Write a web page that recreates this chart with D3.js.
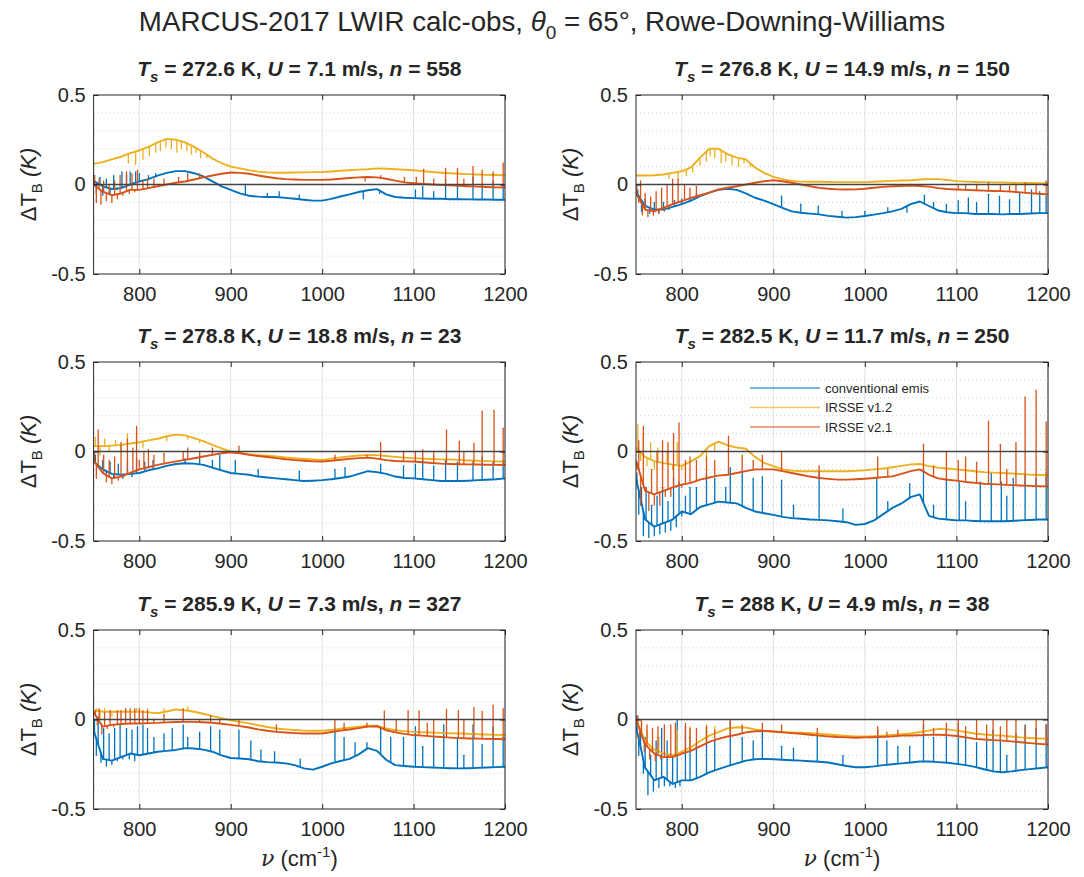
<!DOCTYPE html>
<html>
<head>
<meta charset="utf-8">
<script src="https://cdn.jsdelivr.net/npm/d3@7"></script>
<style>
  body { margin: 0; background: #fff; }
  text { font-family: "Liberation Sans", Arial, Helvetica, sans-serif; fill: #262626; }
</style>
</head>
<body>
<svg id="fig" width="1084" height="877"></svg>
<script>
// ---------------- data ----------------
// Wavenumber grid (cm^-1) for the smooth part of each residual spectrum
const wavenumber = [750, 760, 770, 780, 790, 800, 810, 820, 830, 840,
  850, 860, 870, 880, 890, 900, 910, 920, 930, 940,
  950, 960, 970, 980, 990, 1000, 1010, 1020, 1030, 1040,
  1050, 1060, 1070, 1080, 1090, 1100, 1110, 1120, 1130, 1140,
  1150, 1160, 1170, 1180, 1190, 1200];

const surfaceTemp = ["272.6", "276.8", "278.8", "282.5", "285.9", "288"];
const windSpeed = ["7.1", "14.9", "18.8", "11.7", "7.3", "4.9"];
const sampleCount = ["558", "150", "23", "250", "327", "38"];

const seriesNames = ["conventional emis", "IRSSE v1.2", "IRSSE v2.1"];
const xTicks = [800, 900, 1000, 1100, 1200];
const yTicks = [-0.5, 0, 0.5];
const yMinor = [-0.4, -0.3, -0.2, -0.1, 0.1, 0.2, 0.3, 0.4];

// Panel 1: Ts = 272.6 K
const p1Conv = [0.02, -0.01, -0.025, -0.02, 0.0, 0.017, 0.03, 0.05, 0.065, 0.075,
  0.075, 0.063, 0.045, 0.017, -0.01, -0.03, -0.05, -0.063, -0.068, -0.07,
  -0.07, -0.075, -0.08, -0.085, -0.09, -0.09, -0.08, -0.067, -0.055, -0.042,
  -0.032, -0.026, -0.055, -0.07, -0.074, -0.076, -0.078, -0.08, -0.08, -0.082,
  -0.082, -0.083, -0.084, -0.084, -0.085, -0.085];
const p1V12 = [0.115, 0.125, 0.14, 0.155, 0.175, 0.19, 0.21, 0.235, 0.255, 0.25,
  0.235, 0.21, 0.18, 0.145, 0.12, 0.10, 0.09, 0.08, 0.072, 0.068,
  0.066, 0.066, 0.067, 0.068, 0.069, 0.07, 0.073, 0.077, 0.08, 0.083,
  0.085, 0.09, 0.088, 0.085, 0.082, 0.08, 0.075, 0.07, 0.066, 0.063,
  0.06, 0.058, 0.056, 0.054, 0.053, 0.052];
const p1V21 = [0.0, -0.04, -0.06, -0.05, -0.03, -0.03, -0.02, -0.01, 0.0, 0.01,
  0.017, 0.028, 0.04, 0.05, 0.06, 0.067, 0.065, 0.06, 0.05, 0.042,
  0.035, 0.03, 0.028, 0.026, 0.026, 0.026, 0.028, 0.032, 0.036, 0.04,
  0.042, 0.04, 0.032, 0.022, 0.012, 0.007, 0.003, 0.0, -0.003, -0.005,
  -0.007, -0.01, -0.012, -0.014, -0.016, -0.017];
// spectral-line features: [wavenumber, peak value]
const p1ConvLines = [[751, 0.05], [753, -0.05], [757, 0.04], [760, -0.06], [764, 0.03], [768, -0.05],
  [772, 0.05], [776, -0.03], [781, 0.07], [786, 0.05], [790, 0.07], [796, 0.07], [800, 0.06],
  [810, 0.05], [818, 0.06], [916, 0.0], [940, -0.05], [953, -0.04], [975, -0.06], [1045, -0.08],
  [1063, -0.05], [1102, -0.03], [1110, -0.01], [1122, -0.04], [1135, 0.03], [1148, 0.0],
  [1165, 0.04], [1175, 0.0], [1187, 0.02], [1198, 0.0]];
const p1V12Lines = [[788, 0.12], [796, 0.11], [804, 0.14], [811, 0.16], [818, 0.18], [823, 0.19],
  [829, 0.21], [835, 0.2], [841, 0.18], [846, 0.2], [852, 0.19], [857, 0.17], [862, 0.18],
  [867, 0.15], [874, 0.15]];
const p1V21Lines = [[751, 0.05], [753, -0.1], [756, 0.03], [758, -0.11], [761, 0.02], [764, -0.09],
  [767, 0.0], [770, -0.1], [773, 0.02], [776, -0.08], [779, 0.05], [782, -0.06], [786, 0.07],
  [789, -0.05], [792, 0.06], [795, -0.04], [798, 0.08], [804, 0.02], [809, 0.03], [816, 0.03],
  [827, 0.03], [843, 0.04], [853, 0.06], [866, 0.06], [1047, 0.02], [1064, 0.05], [1090, 0.04],
  [1103, 0.04], [1111, 0.085], [1122, 0.03], [1135, 0.09], [1148, 0.09], [1155, 0.03],
  [1165, 0.1], [1175, 0.08], [1187, 0.07], [1198, 0.12]];

// Panel 2: Ts = 276.8 K
const p2Conv = [-0.04, -0.12, -0.14, -0.14, -0.125, -0.11, -0.09, -0.065, -0.045, -0.03,
  -0.024, -0.03, -0.05, -0.074, -0.09, -0.11, -0.13, -0.15, -0.158, -0.163,
  -0.167, -0.175, -0.18, -0.185, -0.182, -0.176, -0.168, -0.16, -0.15, -0.136,
  -0.11, -0.095, -0.12, -0.145, -0.155, -0.16, -0.16, -0.165, -0.165, -0.165,
  -0.167, -0.165, -0.165, -0.162, -0.16, -0.16];
const p2V12 = [0.05, 0.05, 0.052, 0.056, 0.065, 0.074, 0.095, 0.15, 0.2, 0.2,
  0.17, 0.15, 0.14, 0.095, 0.065, 0.043, 0.03, 0.02, 0.016, 0.015,
  0.015, 0.014, 0.013, 0.013, 0.013, 0.013, 0.015, 0.018, 0.02, 0.022,
  0.024, 0.028, 0.03, 0.03, 0.025, 0.019, 0.016, 0.014, 0.013, 0.012,
  0.012, 0.01, 0.009, 0.008, 0.007, 0.006];
const p2V21 = [-0.05, -0.14, -0.15, -0.13, -0.11, -0.093, -0.075, -0.06, -0.045, -0.028,
  -0.018, -0.01, 0.0, 0.01, 0.018, 0.024, 0.018, 0.01, 0.0, -0.01,
  -0.019, -0.024, -0.027, -0.028, -0.027, -0.024, -0.018, -0.013, -0.01, -0.008,
  -0.006, -0.008, -0.012, -0.02, -0.025, -0.028, -0.03, -0.032, -0.034, -0.036,
  -0.037, -0.04, -0.044, -0.048, -0.052, -0.056];
const p2ConvLines = [[752, -0.03], [756, -0.15], [760, -0.08], [765, -0.16], [770, -0.1], [775, -0.16],
  [780, -0.1], [786, -0.14], [792, -0.09], [800, -0.08], [809, -0.07], [816, -0.05],
  [909, -0.065], [930, -0.11], [949, -0.12], [975, -0.15], [1000, -0.15], [1025, -0.13],
  [1046, -0.155], [1065, -0.06], [1075, -0.1], [1089, -0.11], [1102, -0.09], [1113, -0.075],
  [1122, -0.1], [1135, -0.055], [1147, -0.065], [1158, -0.085], [1169, -0.045], [1182, -0.03],
  [1191, -0.04], [1198, -0.065]];
const p2V12Lines = [[786, 0.035], [796, 0.03], [805, 0.05], [812, 0.07], [820, 0.11], [827, 0.13],
  [831, 0.16], [836, 0.15], [843, 0.12], [848, 0.13], [855, 0.11], [862, 0.1], [868, 0.12],
  [875, 0.1]];
const p2V21Lines = [[751, 0.0], [753, -0.1], [755, 0.02], [757, -0.17], [760, -0.05], [763, -0.18],
  [766, -0.07], [769, -0.17], [772, -0.04], [775, -0.16], [778, -0.02], [781, -0.15],
  [784, 0.0], [787, -0.13], [790, 0.03], [793, -0.1], [796, 0.03], [799, -0.1], [803, 0.0],
  [809, -0.02], [816, -0.01], [1102, 0.0], [1110, 0.0], [1122, 0.0], [1135, 0.01],
  [1148, 0.0], [1158, -0.01], [1165, 0.0], [1175, 0.01], [1187, 0.0], [1198, 0.02]];

// Panel 3: Ts = 278.8 K
const p3Conv = [-0.056, -0.1, -0.125, -0.13, -0.125, -0.12, -0.105, -0.094, -0.08, -0.07,
  -0.066, -0.068, -0.075, -0.09, -0.105, -0.12, -0.125, -0.13, -0.14, -0.145,
  -0.15, -0.155, -0.16, -0.165, -0.163, -0.16, -0.155, -0.148, -0.14, -0.125,
  -0.11, -0.115, -0.125, -0.14, -0.148, -0.15, -0.155, -0.16, -0.165, -0.165,
  -0.165, -0.163, -0.16, -0.158, -0.155, -0.15];
const p3V12 = [0.03, 0.03, 0.033, 0.037, 0.045, 0.052, 0.062, 0.071, 0.085, 0.094,
  0.09, 0.075, 0.058, 0.037, 0.018, 0.0, -0.008, -0.015, -0.02, -0.024,
  -0.028, -0.033, -0.038, -0.042, -0.045, -0.047, -0.04, -0.033, -0.028, -0.022,
  -0.019, -0.02, -0.025, -0.03, -0.034, -0.037, -0.04, -0.042, -0.044, -0.045,
  -0.047, -0.05, -0.052, -0.054, -0.055, -0.056];
const p3V21 = [-0.05, -0.12, -0.15, -0.14, -0.12, -0.1, -0.088, -0.075, -0.065, -0.055,
  -0.047, -0.038, -0.028, -0.019, -0.01, -0.004, -0.01, -0.019, -0.025, -0.031,
  -0.037, -0.043, -0.048, -0.052, -0.055, -0.056, -0.052, -0.046, -0.041, -0.037,
  -0.034, -0.04, -0.048, -0.053, -0.055, -0.056, -0.06, -0.064, -0.068, -0.07,
  -0.071, -0.072, -0.073, -0.074, -0.075, -0.075];
const p3ConvLines = [[752, -0.02], [755, -0.09], [760, -0.05], [764, -0.14], [768, -0.06], [772, -0.15],
  [777, -0.07], [782, -0.15], [787, -0.05], [792, -0.14], [797, -0.04], [806, -0.06],
  [815, -0.05], [850, -0.04], [866, -0.02], [880, -0.05], [888, -0.02], [905, -0.05],
  [930, -0.1], [975, -0.11], [1014, -0.1], [1025, -0.09], [1064, -0.07], [1089, -0.08],
  [1102, -0.07], [1110, -0.05], [1122, -0.08], [1135, -0.05], [1148, -0.06], [1165, -0.05],
  [1175, -0.03], [1187, -0.06], [1198, -0.05]];
const p3V12Lines = [[752, 0.08], [757, -0.02], [762, 0.07], [767, 0.0], [774, 0.06], [780, 0.0],
  [787, 0.1], [797, 0.12], [804, 0.02], [830, 0.06], [853, 0.07], [866, 0.05]];
const p3V21Lines = [[751, 0.0], [753, -0.15], [755, 0.12], [758, -0.1], [761, -0.02], [764, -0.17],
  [767, -0.05], [770, -0.18], [773, -0.03], [777, -0.16], [780, 0.05], [783, -0.14],
  [787, 0.07], [790, -0.12], [793, 0.02], [797, 0.14], [800, -0.05], [805, 0.0], [810, 0.01],
  [816, -0.02], [827, -0.01], [848, 0.0], [853, 0.02], [866, 0.0], [880, 0.02], [909, 0.03],
  [1014, -0.02], [1049, -0.02], [1064, 0.05], [1089, 0.0], [1102, 0.0], [1110, 0.01],
  [1122, 0.0], [1136, 0.12], [1150, 0.056], [1155, 0.0], [1166, 0.047], [1175, 0.225],
  [1188, 0.23], [1198, 0.13]];

// Panel 4: Ts = 282.5 K
const p4Conv = [-0.15, -0.38, -0.42, -0.4, -0.38, -0.335, -0.35, -0.31, -0.295, -0.28,
  -0.285, -0.29, -0.315, -0.335, -0.345, -0.354, -0.365, -0.372, -0.376, -0.38,
  -0.382, -0.385, -0.39, -0.395, -0.41, -0.405, -0.385, -0.35, -0.315, -0.29,
  -0.255, -0.24, -0.36, -0.375, -0.38, -0.385, -0.385, -0.388, -0.39, -0.39,
  -0.39, -0.388, -0.385, -0.383, -0.38, -0.38];
const p4V12 = [0.02, -0.03, -0.054, -0.065, -0.073, -0.08, -0.055, -0.026, 0.03, 0.055,
  0.035, 0.022, 0.015, -0.03, -0.064, -0.082, -0.1, -0.107, -0.11, -0.11,
  -0.11, -0.11, -0.11, -0.11, -0.108, -0.105, -0.1, -0.095, -0.088, -0.08,
  -0.072, -0.07, -0.082, -0.09, -0.095, -0.1, -0.105, -0.11, -0.115, -0.118,
  -0.12, -0.123, -0.126, -0.129, -0.131, -0.133];
const p4V21 = [-0.05, -0.22, -0.24, -0.22, -0.2, -0.185, -0.175, -0.157, -0.145, -0.135,
  -0.13, -0.12, -0.11, -0.1, -0.1, -0.1, -0.11, -0.12, -0.13, -0.14,
  -0.148, -0.153, -0.157, -0.157, -0.155, -0.152, -0.148, -0.143, -0.139, -0.125,
  -0.11, -0.1, -0.13, -0.15, -0.158, -0.163, -0.17, -0.175, -0.18, -0.182,
  -0.185, -0.188, -0.19, -0.192, -0.194, -0.195];
const p4ConvLines = [[751, -0.12], [753, -0.35], [756, -0.2], [758, -0.47], [761, -0.2], [764, -0.48],
  [767, -0.3], [770, -0.47], [773, -0.25], [776, -0.46], [779, -0.2], [782, -0.45],
  [785, -0.28], [788, -0.44], [791, -0.15], [794, -0.42], [797, -0.17], [800, -0.36],
  [804, -0.25], [809, -0.2], [816, -0.2], [827, -0.13], [836, -0.15], [848, -0.2],
  [853, -0.09], [866, -0.12], [878, -0.15], [888, -0.14], [909, -0.16], [922, -0.3],
  [950, -0.12], [976, -0.32], [1013, -0.15], [1025, -0.28], [1049, -0.18], [1064, -0.1],
  [1075, -0.3], [1089, -0.15], [1103, -0.17], [1110, -0.28], [1126, -0.17], [1138, -0.12],
  [1149, -0.17], [1155, -0.25], [1162, -0.15], [1175, -0.13], [1187, -0.15], [1198, -0.12]];
const p4V12Lines = [[752, 0.15], [755, -0.05], [758, 0.1], [762, -0.08], [766, 0.05], [770, -0.1],
  [774, 0.02], [779, -0.1], [784, 0.0], [790, -0.1], [795, 0.05], [800, -0.1], [827, -0.05],
  [836, 0.0]];
const p4V21Lines = [[751, -0.1], [753, 0.06], [755, -0.3], [758, 0.14], [761, -0.2], [764, -0.33],
  [767, -0.1], [770, -0.3], [773, 0.0], [776, -0.3], [779, 0.06], [782, -0.25], [785, 0.05],
  [788, -0.25], [791, 0.1], [794, -0.2], [797, 0.16], [800, -0.2], [804, -0.05], [809, -0.03],
  [816, -0.05], [827, -0.03], [836, -0.05], [851, 0.086], [866, -0.02], [878, -0.05],
  [888, -0.02], [909, 0.0], [950, -0.08], [1014, -0.03], [1025, -0.1], [1064, 0.04],
  [1075, -0.08], [1089, 0.0], [1102, -0.05], [1110, -0.03], [1122, -0.06], [1135, 0.17],
  [1148, 0.04], [1155, -0.1], [1165, 0.05], [1175, 0.305], [1187, 0.343], [1198, 0.165]];

// Panel 5: Ts = 285.9 K
const p5Conv = [-0.06, -0.22, -0.23, -0.21, -0.19, -0.2, -0.19, -0.18, -0.175, -0.17,
  -0.16, -0.162, -0.168, -0.18, -0.2, -0.215, -0.218, -0.222, -0.233, -0.238,
  -0.24, -0.245, -0.255, -0.273, -0.28, -0.264, -0.245, -0.232, -0.22, -0.195,
  -0.16, -0.175, -0.225, -0.255, -0.26, -0.264, -0.266, -0.268, -0.27, -0.272,
  -0.273, -0.272, -0.27, -0.268, -0.266, -0.264];
const p5V12 = [0.05, 0.045, 0.043, 0.043, 0.043, 0.043, 0.04, 0.035, 0.045, 0.056,
  0.052, 0.043, 0.032, 0.019, 0.008, -0.004, -0.013, -0.022, -0.032, -0.042,
  -0.05, -0.055, -0.059, -0.062, -0.063, -0.063, -0.058, -0.052, -0.046, -0.04,
  -0.035, -0.035, -0.05, -0.06, -0.065, -0.069, -0.071, -0.073, -0.075, -0.077,
  -0.078, -0.08, -0.082, -0.084, -0.086, -0.087];
const p5V21 = [0.04, -0.04, -0.03, -0.025, -0.022, -0.022, -0.02, -0.019, -0.016, -0.014,
  -0.013, -0.013, -0.015, -0.018, -0.024, -0.03, -0.037, -0.045, -0.055, -0.063,
  -0.069, -0.073, -0.076, -0.078, -0.078, -0.078, -0.07, -0.062, -0.056, -0.048,
  -0.04, -0.038, -0.06, -0.072, -0.08, -0.087, -0.09, -0.094, -0.098, -0.101,
  -0.104, -0.106, -0.107, -0.108, -0.109, -0.11];
const p5ConvLines = [[751, 0.0], [753, -0.2], [755, 0.015], [758, -0.24], [761, -0.05], [764, -0.26],
  [767, -0.08], [770, -0.25], [773, -0.05], [776, -0.23], [779, -0.03], [782, -0.22],
  [786, -0.05], [789, -0.22], [792, -0.06], [795, -0.23], [798, -0.04], [804, -0.03],
  [809, -0.05], [816, -0.1], [827, -0.08], [836, -0.05], [848, -0.03], [853, -0.1],
  [866, -0.07], [878, -0.04], [888, -0.06], [909, -0.06], [922, -0.12], [933, -0.17],
  [948, -0.18], [976, -0.22], [1014, -0.07], [1024, -0.1], [1036, -0.13], [1049, -0.13],
  [1064, -0.05], [1075, -0.1], [1089, -0.1], [1102, -0.04], [1110, -0.15], [1122, -0.1],
  [1133, -0.03], [1148, -0.1], [1155, -0.2], [1165, -0.03], [1175, -0.14], [1187, -0.04],
  [1198, -0.1]];
const p5V12Lines = [[753, 0.06], [757, 0.0], [762, 0.06], [770, 0.02], [785, 0.06], [797, 0.06],
  [809, 0.06], [827, 0.06], [853, 0.07]];
const p5V21Lines = [[752, 0.05], [754, -0.03], [756, 0.06], [759, -0.08], [762, 0.04], [765, -0.05],
  [768, 0.05], [772, -0.04], [776, 0.05], [780, 0.05], [785, 0.06], [790, 0.06], [795, 0.06],
  [800, 0.06], [804, 0.05], [809, 0.05], [816, 0.0], [827, 0.03], [848, 0.06], [866, 0.0],
  [878, 0.02], [888, 0.0], [909, 0.0], [950, -0.03], [1014, 0.0], [1024, -0.02],
  [1049, -0.02], [1068, 0.048], [1081, 0.0], [1094, 0.05], [1106, 0.048], [1115, -0.02],
  [1122, 0.0], [1136, 0.056], [1149, 0.05], [1155, 0.0], [1166, 0.067], [1175, 0.045],
  [1187, 0.08], [1198, 0.06]];

// Panel 6: Ts = 288 K
const p6Conv = [-0.04, -0.27, -0.34, -0.32, -0.36, -0.34, -0.34, -0.32, -0.295, -0.277,
  -0.26, -0.245, -0.23, -0.222, -0.22, -0.222, -0.225, -0.228, -0.23, -0.233,
  -0.236, -0.24, -0.25, -0.26, -0.267, -0.267, -0.262, -0.255, -0.25, -0.245,
  -0.24, -0.235, -0.235, -0.238, -0.242, -0.248, -0.255, -0.265, -0.278, -0.29,
  -0.295, -0.29, -0.283, -0.277, -0.272, -0.267];
const p6V12 = [0.0, -0.12, -0.17, -0.19, -0.2, -0.18, -0.155, -0.12, -0.09, -0.07,
  -0.05, -0.043, -0.045, -0.055, -0.062, -0.067, -0.07, -0.072, -0.074, -0.077,
  -0.08, -0.084, -0.088, -0.092, -0.095, -0.095, -0.093, -0.09, -0.086, -0.082,
  -0.078, -0.07, -0.062, -0.052, -0.055, -0.062, -0.07, -0.078, -0.084, -0.088,
  -0.09, -0.095, -0.1, -0.103, -0.106, -0.108];
const p6V21 = [0.0, -0.14, -0.19, -0.21, -0.21, -0.19, -0.175, -0.15, -0.125, -0.108,
  -0.095, -0.085, -0.072, -0.066, -0.064, -0.067, -0.072, -0.076, -0.08, -0.085,
  -0.09, -0.094, -0.098, -0.1, -0.102, -0.1, -0.099, -0.097, -0.094, -0.09,
  -0.089, -0.088, -0.086, -0.085, -0.087, -0.092, -0.1, -0.108, -0.112, -0.115,
  -0.118, -0.122, -0.127, -0.132, -0.136, -0.14];
const p6ConvLines = [[751, 0.02], [753, -0.2], [755, -0.05], [758, -0.3], [760, -0.1], [763, -0.42],
  [766, -0.2], [769, -0.4], [772, -0.12], [775, -0.38], [778, -0.05], [781, -0.37],
  [784, -0.12], [787, -0.37], [790, -0.2], [793, -0.38], [795, 0.0], [798, -0.37],
  [804, -0.04], [809, -0.1], [816, -0.15], [827, -0.04], [836, -0.12], [853, -0.01],
  [866, -0.1], [878, -0.12], [888, -0.06], [909, -0.15], [922, -0.16], [948, -0.08],
  [976, -0.2], [1014, -0.06], [1024, -0.12], [1036, -0.15], [1049, -0.15], [1064, -0.03],
  [1075, -0.1], [1089, -0.06], [1102, -0.02], [1110, -0.08], [1122, -0.13], [1133, -0.12],
  [1140, -0.06], [1148, -0.1], [1155, -0.2], [1165, -0.08], [1175, -0.03], [1187, -0.05],
  [1198, -0.03]];
const p6V12Lines = [[756, 0.0], [762, -0.06], [775, -0.1], [795, -0.06], [809, -0.04], [827, -0.03],
  [836, -0.04]];
const p6V21Lines = [[752, 0.02], [754, -0.1], [756, -0.01], [759, -0.18], [762, -0.03], [765, -0.22],
  [768, -0.05], [771, -0.23], [774, -0.04], [777, -0.22], [781, -0.03], [785, -0.2],
  [788, -0.03], [793, -0.02], [796, -0.2], [804, -0.02], [809, -0.05], [816, -0.05],
  [827, -0.04], [836, -0.06], [853, 0.0], [866, -0.03], [888, -0.02], [909, -0.03],
  [948, -0.05], [1014, -0.04], [1024, -0.07], [1036, -0.06], [1064, 0.0], [1075, -0.05],
  [1089, -0.02], [1102, 0.0], [1110, -0.04], [1122, 0.0], [1133, -0.03], [1140, 0.0],
  [1148, -0.04], [1155, 0.0], [1165, 0.0], [1175, -0.04], [1187, 0.0], [1198, -0.03]];

// ---------------- layout & style ----------------
const colors = ["#0072BD", "#EDB120", "#D95319"];
const colLeft = [[93.6, 505], [636, 1048]];
const rowTop = [95, 362, 630];
const axH = 179;

const panels = [
  { series: [[p1Conv, p1ConvLines], [p1V12, p1V12Lines], [p1V21, p1V21Lines]] },
  { series: [[p2Conv, p2ConvLines], [p2V12, p2V12Lines], [p2V21, p2V21Lines]] },
  { series: [[p3Conv, p3ConvLines], [p3V12, p3V12Lines], [p3V21, p3V21Lines]] },
  { series: [[p4Conv, p4ConvLines], [p4V12, p4V12Lines], [p4V21, p4V21Lines]] },
  { series: [[p5Conv, p5ConvLines], [p5V12, p5V12Lines], [p5V21, p5V21Lines]] },
  { series: [[p6Conv, p6ConvLines], [p6V12, p6V12Lines], [p6V21, p6V21Lines]] }
];

const svg = d3.select("#fig");

// Figure title
const title = svg.append("text")
  .attr("x", 542).attr("y", 31)
  .attr("text-anchor", "middle")
  .style("font-size", "27.7px");
title.append("tspan").text("MARCUS-2017 LWIR calc-obs, ");
title.append("tspan").style("font-style", "italic").text("\u03B8");
title.append("tspan").attr("dy", 8).style("font-size", "19px").text("0");
title.append("tspan").attr("dy", -8).text(" = 65\u00B0, Rowe-Downing-Williams");

panels.forEach((p, i) => {
  const col = i % 2, row = Math.floor(i / 2);
  const [x0, x1] = colLeft[col];
  const y0 = rowTop[row], y1 = y0 + axH;
  const x = d3.scaleLinear().domain([750, 1200]).range([x0, x1]);
  const y = d3.scaleLinear().domain([-0.5, 0.5]).range([y1, y0]);
  const g = svg.append("g");

  const clipId = "clip" + i;
  g.append("clipPath").attr("id", clipId)
    .append("rect").attr("x", x0).attr("y", y0).attr("width", x1 - x0).attr("height", axH);

  // minor (dotted) horizontal grid
  g.selectAll(".minor").data(yMinor).join("line")
    .attr("x1", x0).attr("x2", x1)
    .attr("y1", d => y(d)).attr("y2", d => y(d))
    .attr("stroke", "#cfcfcf").attr("stroke-width", 1)
    .attr("stroke-dasharray", "1,3");
  // major vertical grid
  g.selectAll(".majorx").data(xTicks).join("line")
    .attr("x1", d => x(d)).attr("x2", d => x(d))
    .attr("y1", y0).attr("y2", y1)
    .attr("stroke", "#e1e1e1").attr("stroke-width", 1);

  // spectra
  const plot = g.append("g").attr("clip-path", `url(#${clipId})`);
  const line = d3.line().x(d => x(d[0])).y(d => y(d[1]));
  p.series.forEach(([vals, lines], k) => {
    const pts = wavenumber.map((w, j) => [w, vals[j]]);
    plot.append("path").datum(pts)
      .attr("d", line)
      .attr("fill", "none").attr("stroke", colors[k])
      .attr("stroke-width", 1.9).attr("stroke-linejoin", "round");
    const base = d3.scaleLinear().domain(wavenumber).range(vals);
    plot.selectAll(null).data(lines).join("line")
      .attr("x1", d => x(d[0])).attr("x2", d => x(d[0]))
      .attr("y1", d => y(base(d[0]))).attr("y2", d => y(d[1]))
      .attr("stroke", colors[k]).attr("stroke-width", 1.3)
      .attr("stroke-linecap", "round");
  });

  // zero reference
  g.append("line")
    .attr("x1", x0).attr("x2", x1).attr("y1", y(0)).attr("y2", y(0))
    .attr("stroke", "#454545").attr("stroke-width", 1.5);

  // axes
  const fmt = d => String(d);
  g.append("g").attr("transform", `translate(0,${y1})`)
    .call(d3.axisBottom(x).tickValues(xTicks).tickSizeInner(-5).tickSizeOuter(0)
      .tickPadding(13).tickFormat(fmt));
  g.append("g").attr("transform", `translate(0,${y0})`)
    .call(d3.axisTop(x).tickValues(xTicks).tickSizeInner(-5).tickSizeOuter(0).tickFormat(""));
  g.append("g").attr("transform", `translate(${x0},0)`)
    .call(d3.axisLeft(y).tickValues(yTicks).tickSizeInner(-5).tickSizeOuter(0)
      .tickPadding(8).tickFormat(fmt));
  g.append("g").attr("transform", `translate(${x1},0)`)
    .call(d3.axisRight(y).tickValues(yTicks).tickSizeInner(-5).tickSizeOuter(0).tickFormat(""));
  g.selectAll(".domain").remove();
  g.selectAll(".tick line").attr("stroke", "#262626");
  g.selectAll(".tick text")
    .attr("fill", "#262626")
    .style("font-family", "'Liberation Sans', Arial, sans-serif")
    .style("font-size", "20px");

  g.append("rect")
    .attr("x", x0).attr("y", y0).attr("width", x1 - x0).attr("height", axH)
    .attr("fill", "none").attr("stroke", "#262626").attr("stroke-width", 1);

  // panel title
  const cx = (x0 + x1) / 2;
  const t = g.append("text").attr("x", cx).attr("y", y0 - 19)
    .attr("text-anchor", "middle")
    .style("font-size", "21px").style("font-weight", "bold");
  t.append("tspan").style("font-style", "italic").text("T");
  t.append("tspan").style("font-style", "italic").style("font-size", "15px").attr("dy", 6).text("s");
  t.append("tspan").attr("dy", -6).text(` = ${surfaceTemp[i]} K, `);
  t.append("tspan").style("font-style", "italic").text("U");
  t.append("tspan").text(` = ${windSpeed[i]} m/s, `);
  t.append("tspan").style("font-style", "italic").text("n");
  t.append("tspan").text(` = ${sampleCount[i]}`);

  // y label
  const ly = g.append("text")
    .attr("transform", `translate(${x0 - 58},${(y0 + y1) / 2}) rotate(-90)`)
    .attr("text-anchor", "middle").style("font-size", "22px");
  ly.append("tspan").text("\u0394T");
  ly.append("tspan").attr("dy", 6).style("font-size", "15px").text("B");
  ly.append("tspan").attr("dy", -6).text(" ");
  ly.append("tspan").style("font-style", "italic").text("(K)");

  // x label on bottom row
  if (row === 2) {
    const lx = g.append("text").attr("x", cx).attr("y", 866)
      .attr("text-anchor", "middle").style("font-size", "22px");
    lx.append("tspan").style("font-style", "italic").style("font-family", "'DejaVu Serif', serif").text("\u03BD");
    lx.append("tspan").text(" (cm");
    lx.append("tspan").attr("dy", -9).style("font-size", "15px").text("-1");
    lx.append("tspan").attr("dy", 9).text(")");
  }

  // legend inside the fourth panel
  if (i === 3) {
    const lg = g.append("g");
    seriesNames.forEach((name, k) => {
      const ly0 = 388 + k * 19.5;
      lg.append("line").attr("x1", 750).attr("x2", 820).attr("y1", ly0).attr("y2", ly0)
        .attr("stroke", colors[k]).attr("stroke-width", 1.4).attr("stroke-opacity", 0.7);
      lg.append("text").attr("x", 825).attr("y", ly0 + 4.5)
        .style("font-size", "13px").text(name);
    });
  }
});
</script>
</body>
</html>
